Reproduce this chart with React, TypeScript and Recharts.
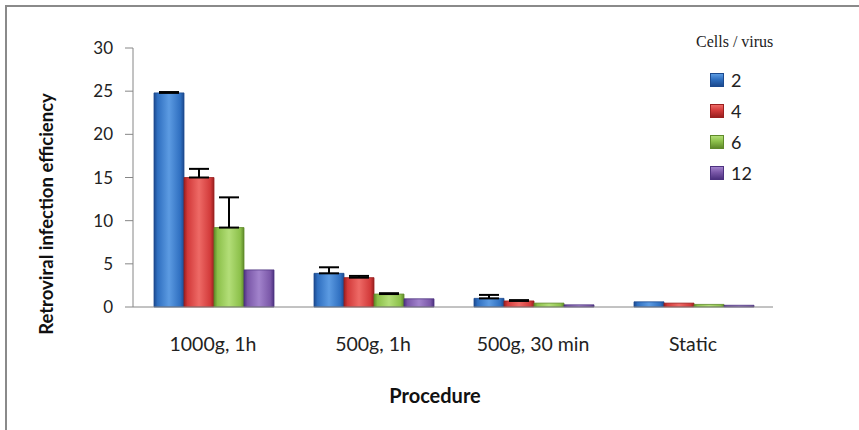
import React from "react";
import { BarChart, Bar, XAxis, YAxis, Legend, ErrorBar } from "recharts";

// procedures on the x axis
const procedures = ["1000g, 1h", "500g, 1h", "500g, 30 min", "Static"];

// mean infection efficiency per cells/virus ratio
const cells2 = [24.8, 3.9, 1.0, 0.6];
const cells4 = [15.0, 3.4, 0.7, 0.45];
const cells6 = [9.2, 1.5, 0.45, 0.3];
const cells12 = [4.3, 0.95, 0.25, 0.2];

// upper error (null = no bar drawn)
const err2 = [0.1, 0.7, 0.4, null];
const err4 = [1.0, 0.2, 0.1, null];
const err6 = [3.5, 0.1, null, null];
const err12 = [null, null, null, null];

const yTicks = [0, 5, 10, 15, 20, 25, 30];
const edgeTicks = [0, 1, 2, 3, 4];

const SERIES = [
  { key: "c2", name: "2", values: cells2, errors: err2, dark: "#1c4a8f", mid: "#2f6fc0", light: "#5c9be2" },
  { key: "c4", name: "4", values: cells4, errors: err4, dark: "#9a1f1f", mid: "#d23a3a", light: "#ee6a66" },
  { key: "c6", name: "6", values: cells6, errors: err6, dark: "#5f8a2a", mid: "#8cc04a", light: "#b3de78" },
  { key: "c12", name: "12", values: cells12, errors: err12, dark: "#4d3280", mid: "#7a57a8", light: "#a283cc" },
];

const data = procedures.map((p, i) => {
  const row: Record<string, any> = { procedure: p };
  SERIES.forEach((s) => {
    row[s.key] = s.values[i];
    row[s.key + "Err"] = s.errors[i] == null ? null : [0, s.errors[i]];
  });
  return row;
});

const AXIS = "#868686";
const SANS = "Lato, 'Open Sans', sans-serif";

function LegendBox() {
  return (
    <div style={{ fontFamily: SANS }}>
      <div style={{ fontFamily: "'Liberation Serif', serif", fontSize: 16, color: "#222", marginBottom: 13 }}>
        Cells / virus
      </div>
      {SERIES.map((s) => (
        <div key={s.key} style={{ display: "flex", alignItems: "center", height: 31, paddingLeft: 14 }}>
          <span
            style={{
              width: 12,
              height: 12,
              marginRight: 7,
              background: `linear-gradient(180deg, ${s.light}, ${s.mid} 45%, ${s.dark})`,
              border: `1px solid ${s.dark}`,
            }}
          />
          <span style={{ fontSize: 18, color: "#222" }}>{s.name}</span>
        </div>
      ))}
    </div>
  );
}

export default function App() {
  return (
    <div style={{ position: "absolute", left: 0, top: 0, width: 859, height: 430, background: "#fff", overflow: "hidden" }}>
      <div
        style={{
          position: "absolute",
          left: 5,
          top: 5,
          width: 900,
          height: 500,
          borderTop: "2px solid #8a8a8a",
          borderLeft: "2px solid #8a8a8a",
        }}
      />
      <div style={{ position: "absolute", left: 0, top: 0 }}>
        <BarChart
          width={859}
          height={430}
          data={data}
          margin={{ top: 48, right: 86, bottom: 0, left: 0 }}
          barCategoryGap={21}
          barGap={0}
        >
          <defs>
            {SERIES.map((s) => (
              <linearGradient key={s.key} id={"grad" + s.key} x1="0" y1="0" x2="1" y2="0">
                <stop offset="0%" stopColor={s.dark} />
                <stop offset="12%" stopColor={s.mid} />
                <stop offset="50%" stopColor={s.light} />
                <stop offset="88%" stopColor={s.mid} />
                <stop offset="100%" stopColor={s.dark} />
              </linearGradient>
            ))}
          </defs>
          {/* boundary ticks between categories, Excel style */}
          <XAxis
            xAxisId={0}
            type="number"
            domain={[0, 4]}
            ticks={edgeTicks}
            tick={false}
            height={1}
            tickSize={8}
            stroke={AXIS}
            axisLine={{ stroke: AXIS }}
            tickLine={{ stroke: AXIS }}
          />
          <XAxis
            xAxisId="procedure"
            dataKey="procedure"
            height={122}
            axisLine={false}
            tickLine={false}
            tickSize={0}
            tickMargin={29}
            tick={{ fontSize: 19.5, fill: "#222", fontFamily: SANS }}
            label={{
              content: () => (
                <text x={435} y={395} textAnchor="middle" dominantBaseline="central" fontFamily={SANS} fontWeight="bold" fontSize={20} fill="#111">
                  Procedure
                </text>
              ),
            }}
          />
          <YAxis
            domain={[0, 30]}
            ticks={yTicks}
            width={133}
            tickSize={8}
            tickMargin={12}
            axisLine={{ stroke: AXIS }}
            tickLine={{ stroke: AXIS }}
            tick={{ fontSize: 17, fill: "#222", fontFamily: SANS }}
            label={{
              content: () => (
                <text
                  x={46}
                  y={214}
                  transform="rotate(-90 46 214)"
                  textAnchor="middle"
                  dominantBaseline="central"
                  fontFamily={SANS}
                  fontWeight="bold"
                  fontSize={18.5}
                  fill="#111"
                >
                  Retroviral infection efficiency
                </text>
              ),
            }}
          />
          <Legend
            layout="vertical"
            align="center"
            verticalAlign="middle"
            content={() => <LegendBox />}
            wrapperStyle={{ position: "absolute", left: 696, top: 33, width: 140 }}
          />
          {SERIES.map((s) => (
            <Bar
              key={s.key}
              xAxisId="procedure"
              dataKey={s.key}
              name={s.name}
              fill={`url(#grad${s.key})`}
              stroke={s.dark}
              strokeWidth={0.8}
              isAnimationActive={false}
            >
              <ErrorBar dataKey={s.key + "Err"} width={10} stroke="#000" strokeWidth={2} direction="y" />
            </Bar>
          ))}
        </BarChart>
      </div>
    </div>
  );
}
